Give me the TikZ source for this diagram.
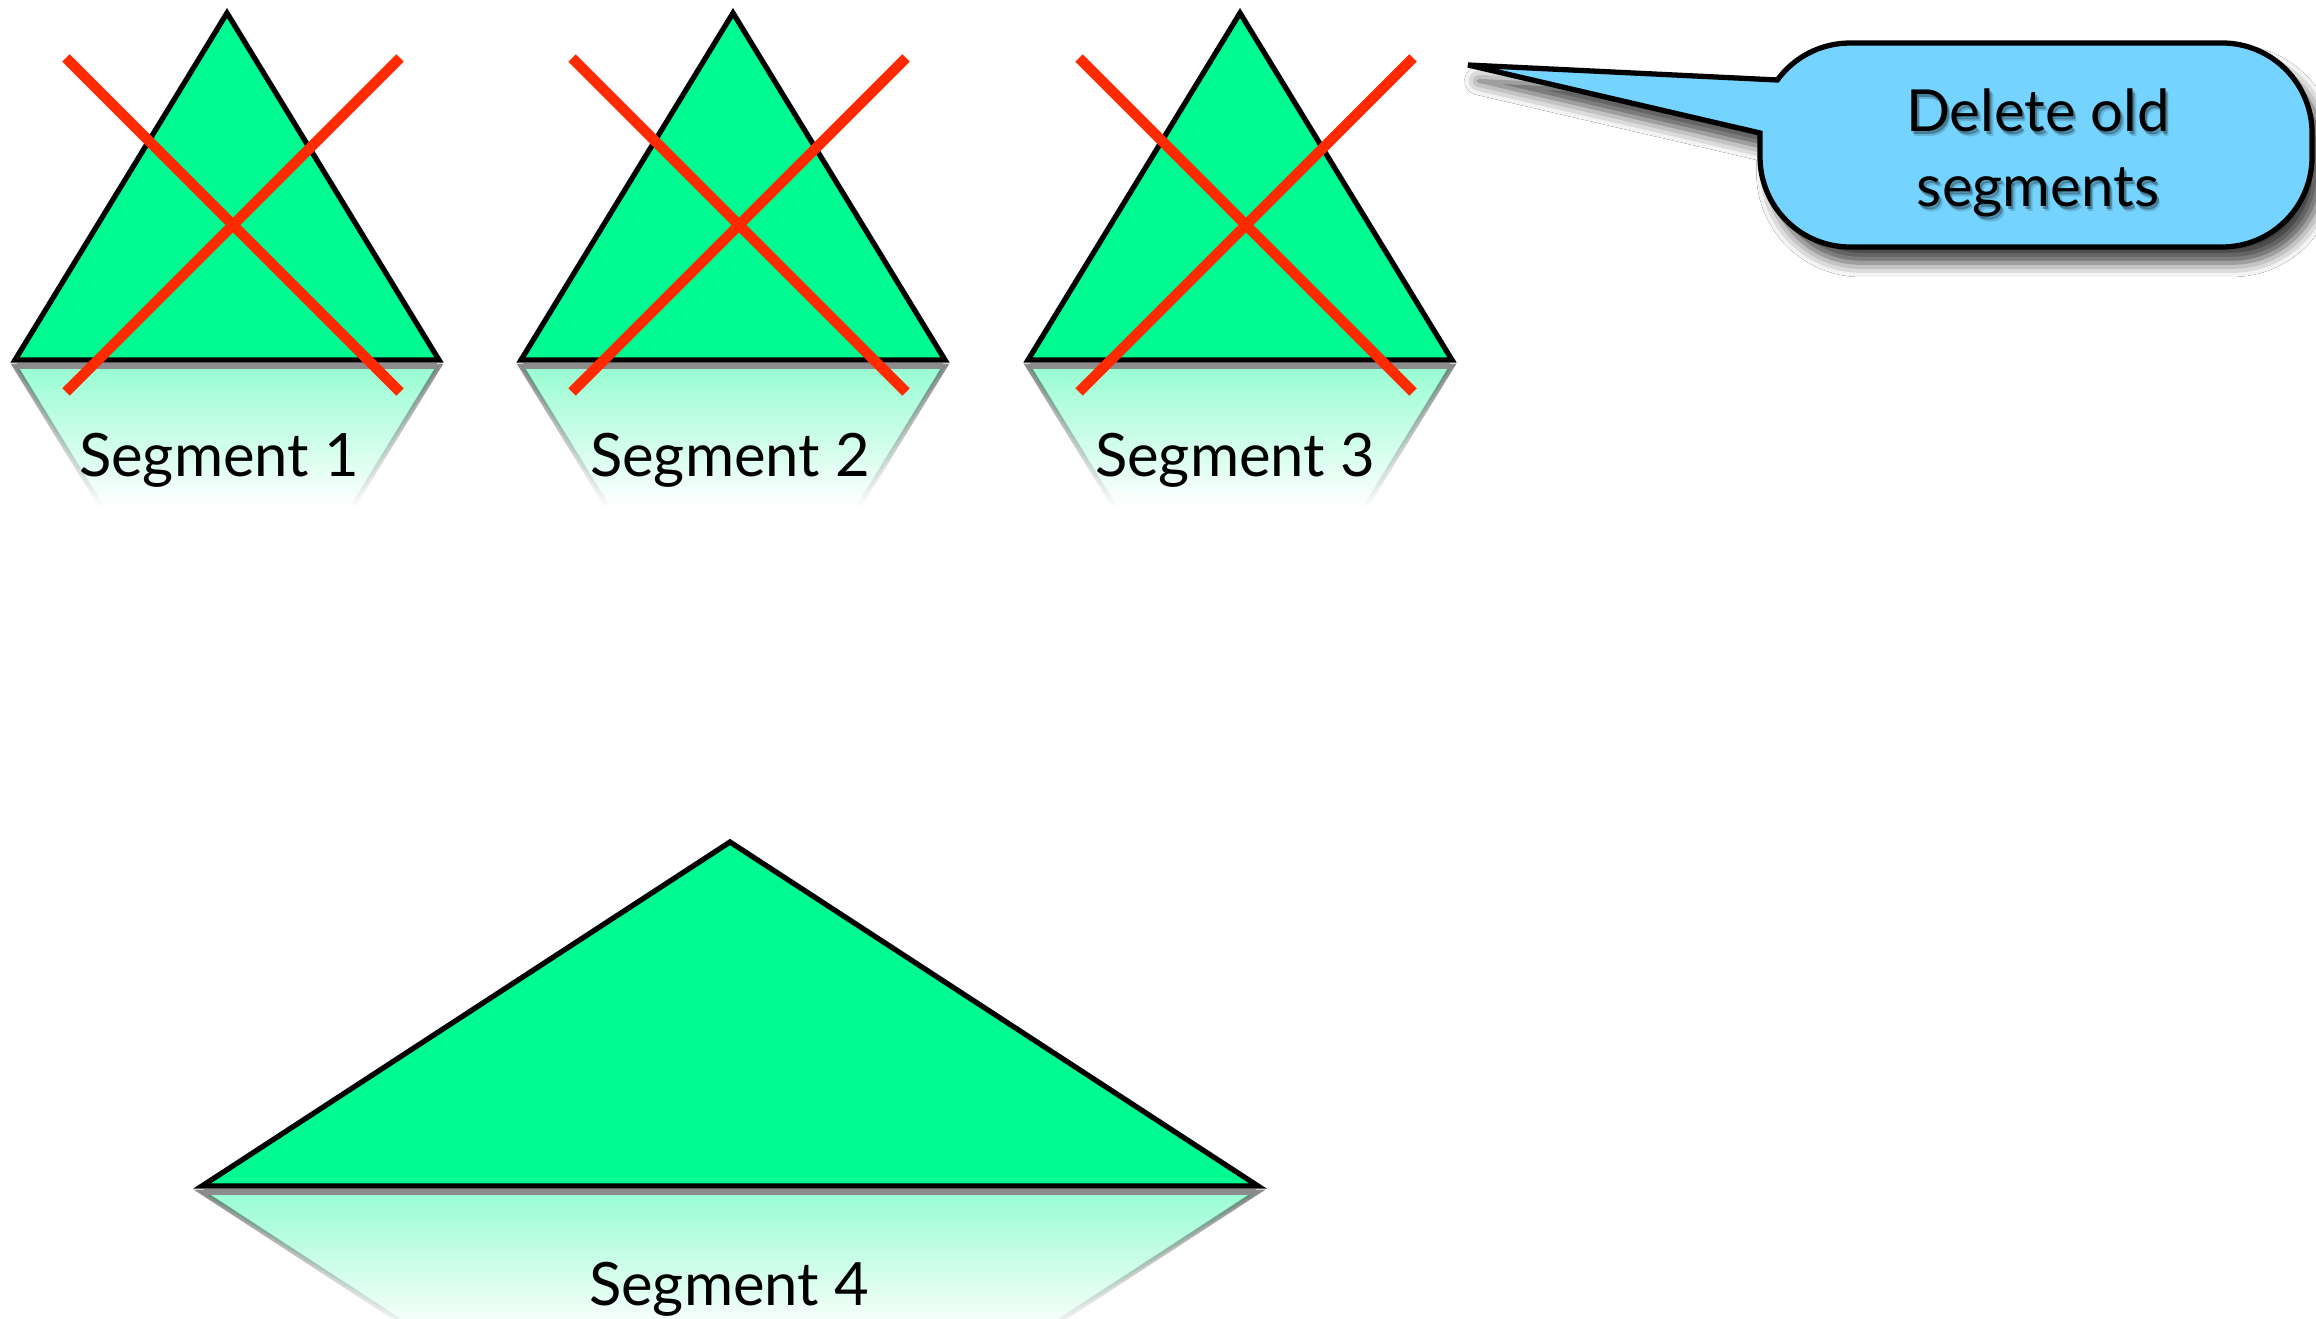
\documentclass[tikz,border=0pt]{standalone}
\usepackage{fontspec}
\setmainfont{Lato}
\usetikzlibrary{fadings,shadows.blur}
\definecolor{segg}{RGB}{0,250,146}
\definecolor{crossr}{RGB}{255,42,0}
\definecolor{bubb}{RGB}{117,212,255}
\tikzfading[name=reflfade, top color=transparent!59, middle color=transparent!86, bottom color=transparent!100]
\tikzfading[name=edgefade, top color=transparent!35, middle color=transparent!75, bottom color=transparent!100]
\tikzset{
  tri/.style={fill=segg, draw=black, line width=1.5pt, line join=miter},
  crossline/.style={draw=crossr, line width=3pt},
  reflfill/.style={fill=segg, path fading=reflfade},
  refledge/.style={draw=black!70, line width=1.4pt, path fading=edgefade},
  reflbase/.style={draw=black!45, line width=1.6pt},
  lbl/.style={font=\fontsize{17pt}{20pt}\selectfont, inner sep=0pt, anchor=base},
  bubtext/.style={font=\fontsize{16.5pt}{20pt}\selectfont, inner sep=0pt, anchor=base},
  txtshadow/.style={bubtext, text=black, text opacity=#1},
  callout/.style={fill=bubb, draw=black, line width=1.5pt, line join=miter,
    blur shadow={shadow xshift=3pt, shadow yshift=-4.5pt, shadow blur radius=4pt, shadow opacity=75}},
}
\begin{document}
\begin{tikzpicture}[x=0.01cm, y=-0.01cm]
\fill[white] (0,0) rectangle (2316,1319);
\useasboundingbox (0,0) rectangle (2316,1319);
\clip (0,0) rectangle (2316,1319);

% top row: three crossed-out segments
\foreach \cx/\n in {227/1, 733/2, 1240/3} {
  \fill[reflfill] (\cx-212,366) -- (\cx+212,366) -- (\cx+126,506) -- (\cx-126,506) -- cycle;
  \draw[refledge] (\cx-126,506) -- (\cx-212,366) -- (\cx+212,366) -- (\cx+126,506);
  \draw[reflbase] (\cx-210,366) -- (\cx+210,366);
  \draw[tri] (\cx,13) -- (\cx+212,360) -- (\cx-212,360) -- cycle;
  \draw[crossline] (\cx-161,58) -- (\cx+173,392);
  \draw[crossline] (\cx+173,58) -- (\cx-161,392);
}
\node[lbl] (s1) at (219,477) {Segment 1};
\node[lbl] (s2) at (730,477) {Segment 2};
\node[lbl] (s3) at (1235,477) {Segment 3};

% merged segment
\fill[reflfill] (202,1192) -- (1258,1192) -- (1043,1332) -- (417,1332) -- cycle;
\draw[refledge] (417,1332) -- (202,1192) -- (1258,1192) -- (1043,1332);
\draw[reflbase] (204,1192) -- (1256,1192);
\draw[tri] (730,842) -- (1258,1186) -- (202,1186) -- cycle;
\node[lbl] (s4) at (729,1305) {Segment 4};

% callout
\path[callout] (1468,65) -- (1777.3,80)
  arc[start angle=216.1, end angle=270, radius=90] -- (2222,43)
  arc[start angle=270, end angle=360, radius=90] -- (2312,157)
  arc[start angle=0, end angle=90, radius=90] -- (1850,247)
  arc[start angle=90, end angle=180, radius=90] -- (1760,133) -- cycle;
\node[txtshadow=0.15] (c1s2) at (2041.5,137) {Delete old};
\node[txtshadow=0.15] (c2s2) at (2041.5,212) {segments};
\node[txtshadow=0.3] (c1s1) at (2040,134.5) {Delete old};
\node[txtshadow=0.3] (c2s1) at (2040,209.5) {segments};
\node[bubtext] (c1) at (2038,132) {Delete old};
\node[bubtext] (c2) at (2038,207) {segments};
\end{tikzpicture}
\end{document}
